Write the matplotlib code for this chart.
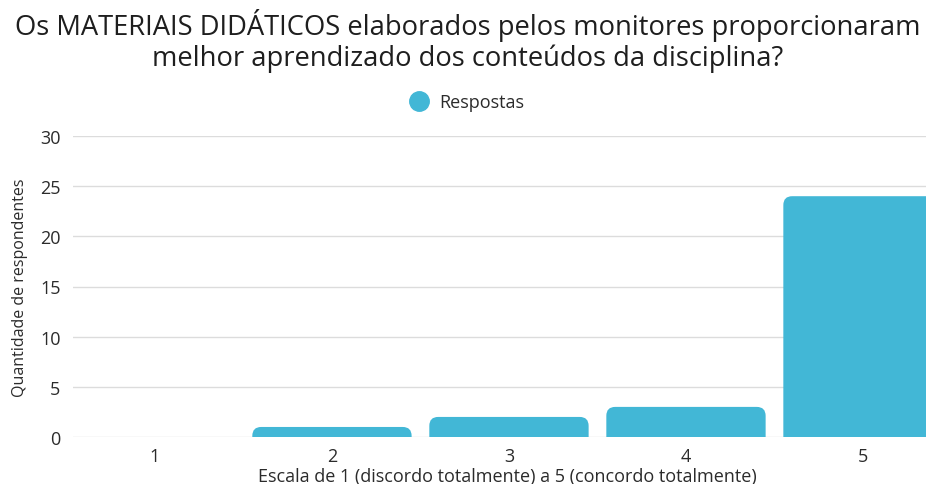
import matplotlib
matplotlib.use("Agg")
import matplotlib.pyplot as plt
from matplotlib.patches import FancyBboxPatch
from matplotlib.lines import Line2D

plt.rcParams['font.family'] = ['Open Sans', 'DejaVu Sans']

# data
categorias = ["1", "2", "3", "4", "5"]
respostas = [0, 1, 2, 3, 24]
cor = "#42b7d6"

fig = plt.figure(figsize=(9.26, 4.85), dpi=100)
ax = fig.add_axes([73/926, 47/485, 1 - 73/926, 301/485])

x = list(range(len(categorias)))
bars = ax.bar(x, respostas, width=0.9, color=cor)

# swap the plain bars for ones with rounded top corners
r = 0.05           # rounding in x data units (~9 px)
aspect = 17.7      # y units per x unit for round corners
for b in bars:
    bx, by, bw, bh = b.get_x(), b.get_y(), b.get_width(), b.get_height()
    b.remove()
    if bh <= 0:
        continue
    # start below zero so the bottom corners get clipped away
    p = FancyBboxPatch((bx, by - 3), bw, bh + 3,
                       boxstyle=f"round,pad=0,rounding_size={r}",
                       mutation_aspect=aspect, fc=cor, ec="none", zorder=2)
    ax.add_patch(p)

ax.set_xlim(-0.463, 4.356)
ax.set_ylim(0, 30)
ax.set_yticks(range(0, 31, 5))
ax.set_xticks(x)
ax.set_xticklabels(categorias)
ax.grid(axis="y", color="#dcdcdc", linewidth=1)
ax.set_axisbelow(True)
for s in ax.spines.values():
    s.set_visible(False)
ax.tick_params(length=0, labelsize=13, colors="#2b2b2b", pad=7)
ax.tick_params(axis="y", pad=9)

ax.set_xlabel("Escala de 1 (discordo totalmente) a 5 (concordo totalmente)",
              fontsize=13, color="#2b2b2b")
ax.xaxis.set_label_coords((507 - 73) / (926 - 73), -30/301)
ax.set_ylabel("Quantidade de respondentes", fontsize=11.5, color="#2b2b2b")
ax.yaxis.set_label_coords(-(73 - 28) / (926 - 73), 0.5)

fig.text(0.505, 1 - 26/485, "Os MATERIAIS DIDÁTICOS elaborados pelos monitores proporcionaram",
         ha="center", va="center", fontsize=19.7, color="#1e1e1e")
fig.text(0.505, 1 - 59/485, "melhor aprendizado dos conteúdos da disciplina?",
         ha="center", va="center", fontsize=19.7, color="#1e1e1e")

handle = Line2D([], [], marker="o", linestyle="none", markersize=14,
                markerfacecolor=cor, markeredgecolor=cor)
fig.legend([handle], ["Respostas"], loc="center", bbox_to_anchor=(0.4995, 1 - 103/485),
           frameon=False, fontsize=13, handletextpad=0.1, labelcolor="#2b2b2b")

fig.savefig("out.png", dpi=100)
